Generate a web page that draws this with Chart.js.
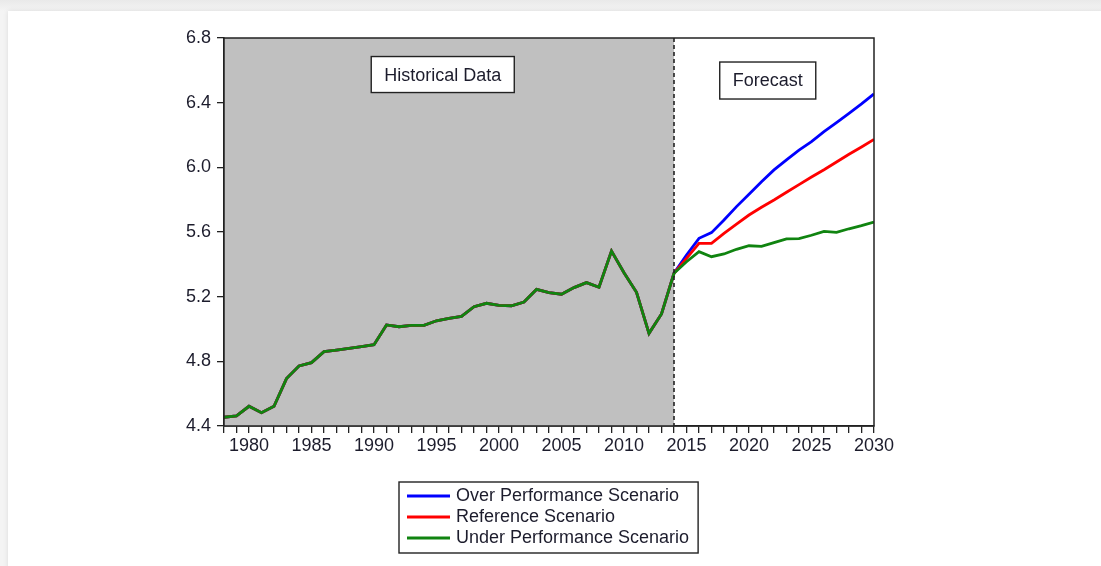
<!DOCTYPE html>
<html>
<head>
<meta charset="utf-8">
<title>Historical data and forecast scenarios</title>
<script src="https://cdn.jsdelivr.net/npm/chart.js@4.4.1/dist/chart.umd.min.js"></script>
<style>
  html, body { margin: 0; padding: 0; }
  body { width: 1101px; height: 566px; overflow: hidden; position: relative;
         background: linear-gradient(#e9e9e9, #f4f4f4 11px); }
  .card { position: absolute; left: 8px; top: 11px; right: -20px; bottom: -20px;
          background: #fff; box-shadow: 0 0 5px rgba(0,0,0,0.10); }
  #chart { position: absolute; left: 0; top: 0; }
</style>
</head>
<body>
<div class="card"></div>
<canvas id="chart" width="1101" height="566"></canvas>
<script>
// years on the x axis
var years = [1978, 1979, 1980, 1981, 1982, 1983, 1984, 1985, 1986, 1987,
             1988, 1989, 1990, 1991, 1992, 1993, 1994, 1995, 1996, 1997,
             1998, 1999, 2000, 2001, 2002, 2003, 2004, 2005, 2006, 2007,
             2008, 2009, 2010, 2011, 2012, 2013, 2014, 2015, 2016, 2017,
             2018, 2019, 2020, 2021, 2022, 2023, 2024, 2025, 2026, 2027,
             2028, 2029, 2030];

// observed values 1978-2014
var historical = [4.454, 4.462, 4.522, 4.482, 4.522, 4.693, 4.771, 4.792, 4.860, 4.870,
                  4.880, 4.891, 4.903, 5.025, 5.014, 5.023, 5.023, 5.051, 5.066, 5.078,
                  5.138, 5.159, 5.146, 5.144, 5.167, 5.245, 5.225, 5.215, 5.256, 5.287,
                  5.258, 5.482, 5.348, 5.227, 4.973, 5.093, 5.345];

// scenario forecasts 2015-2030
var overForecast = [5.458, 5.561, 5.596, 5.674, 5.757, 5.833, 5.911, 5.984,
                    6.046, 6.107, 6.159, 6.221, 6.277, 6.334, 6.392, 6.454];
var referenceForecast = [5.437, 5.530, 5.530, 5.592, 5.649, 5.705, 5.753, 5.798,
                         5.846, 5.893, 5.940, 5.985, 6.033, 6.081, 6.126, 6.173];
var underForecast = [5.416, 5.478, 5.447, 5.464, 5.493, 5.515, 5.511, 5.534,
                     5.557, 5.559, 5.580, 5.604, 5.598, 5.620, 5.639, 5.662];

var yTicks = [4.4, 4.8, 5.2, 5.6, 6.0, 6.4, 6.8];
var forecastStart = 2014;

var FONT = '"Liberation Sans", Arial, sans-serif';
var TEXT = '#1c1c2c';
var INK = '#222';

function series(forecast) {
  return historical.concat(forecast).map(function (v, i) {
    return { x: years[i], y: v };
  });
}

function line(label, color, forecast, order) {
  return {
    label: label,
    data: series(forecast),
    borderColor: color,
    backgroundColor: color,
    borderWidth: 2.8,
    pointRadius: 0,
    tension: 0,
    order: order
  };
}

// grey panel for the history part plus the dashed split line
var shading = {
  id: 'shading',
  beforeDatasetsDraw: function (chart) {
    var ctx = chart.ctx, a = chart.chartArea, x = chart.scales.x;
    var x0 = x.getPixelForValue(years[0]);
    var x1 = x.getPixelForValue(forecastStart);
    ctx.save();
    ctx.fillStyle = '#c0c0c0';
    ctx.fillRect(x0, a.top, x1 - x0, a.bottom - a.top);
    ctx.restore();
  },
  afterDatasetsDraw: function (chart) {
    var ctx = chart.ctx, a = chart.chartArea, x = chart.scales.x, y = chart.scales.y;
    var x1 = x.getPixelForValue(forecastStart);
    ctx.save();
    ctx.strokeStyle = INK;
    ctx.lineWidth = 1.6;
    ctx.setLineDash([4, 3]);
    ctx.beginPath();
    ctx.moveTo(x1, a.top);
    ctx.lineTo(x1, a.bottom);
    ctx.stroke();
    ctx.setLineDash([]);
    ctx.lineWidth = 1.5;
    ctx.strokeRect(a.left, a.top, a.right - a.left, a.bottom - a.top);

    // captions over the two panels
    ctx.font = '18px ' + FONT;
    ctx.textAlign = 'center';
    ctx.textBaseline = 'middle';
    [['Historical Data', 1995.5, 6.574, 36], ['Forecast', 2021.5, 6.537, 37]].forEach(function (c) {
      var cx = x.getPixelForValue(c[1]), cy = y.getPixelForValue(c[2]);
      var w = ctx.measureText(c[0]).width + 26, h = c[3];
      ctx.fillStyle = '#fff';
      ctx.fillRect(cx - w / 2, cy - h / 2, w, h);
      ctx.strokeStyle = INK;
      ctx.lineWidth = 1.4;
      ctx.strokeRect(cx - w / 2, cy - h / 2, w, h);
      ctx.fillStyle = TEXT;
      ctx.fillText(c[0], cx, cy + 1);
    });
    ctx.restore();
  }
};

// boxed legend under the x axis
var boxLegend = {
  id: 'boxLegend',
  afterDraw: function (chart) {
    var ctx = chart.ctx, a = chart.chartArea;
    var sets = chart.data.datasets;
    ctx.save();
    ctx.font = '18px ' + FONT;
    var tw = 0;
    sets.forEach(function (d) { tw = Math.max(tw, ctx.measureText(d.label).width); });
    var rowH = 21, swatch = 43;
    var w = 8 + swatch + 6 + tw + 9;
    var h = sets.length * rowH + 8;
    var left = Math.round((a.left + a.right) / 2 - w / 2);
    var top = a.bottom + 56;
    ctx.fillStyle = '#fff';
    ctx.fillRect(left, top, w, h);
    ctx.strokeStyle = INK;
    ctx.lineWidth = 1.4;
    ctx.strokeRect(left, top, w, h);
    ctx.textAlign = 'left';
    ctx.textBaseline = 'middle';
    sets.forEach(function (d, i) {
      var cy = top + 14 + i * rowH;
      ctx.strokeStyle = d.borderColor;
      ctx.lineWidth = 2.8;
      ctx.beginPath();
      ctx.moveTo(left + 8, cy);
      ctx.lineTo(left + 8 + swatch, cy);
      ctx.stroke();
      ctx.fillStyle = TEXT;
      ctx.fillText(d.label, left + 8 + swatch + 6, cy);
    });
    ctx.restore();
  }
};

new Chart(document.getElementById('chart'), {
  type: 'line',
  data: {
    datasets: [
      line('Over Performance Scenario', '#0000ff', overForecast, 3),
      line('Reference Scenario', '#ff0000', referenceForecast, 2),
      line('Under Performance Scenario', '#108410', underForecast, 1)
    ]
  },
  options: {
    responsive: false,
    animation: false,
    devicePixelRatio: 1,
    layout: { padding: { top: 38, right: 227, left: 0, bottom: 0 } },
    plugins: { legend: { display: false }, tooltip: { enabled: false } },
    scales: {
      x: {
        type: 'linear',
        min: years[0],
        max: years[years.length - 1],
        afterFit: function (s) { s.height = 140; },
        grid: { drawOnChartArea: false, drawTicks: true, tickLength: 7, color: INK, lineWidth: 1.3 },
        border: { display: true, color: INK, width: 1.5 },
        ticks: {
          stepSize: 1,
          autoSkip: false,
          maxRotation: 0,
          padding: 2,
          color: TEXT,
          font: { family: FONT, size: 18 },
          callback: function (v) { return v % 5 === 0 ? String(v) : ''; }
        }
      },
      y: {
        min: yTicks[0],
        max: yTicks[yTicks.length - 1],
        afterFit: function (s) { s.width = 224; },
        afterBuildTicks: function (s) { s.ticks = yTicks.map(function (v) { return { value: v }; }); },
        grid: { drawOnChartArea: false, drawTicks: true, tickLength: 7, color: INK, lineWidth: 1.3 },
        border: { display: true, color: INK, width: 1.5 },
        ticks: {
          padding: 6,
          color: TEXT,
          font: { family: FONT, size: 18 },
          callback: function (v) { return v.toFixed(1); }
        }
      }
    }
  },
  plugins: [shading, boxLegend]
});
</script>
</body>
</html>
